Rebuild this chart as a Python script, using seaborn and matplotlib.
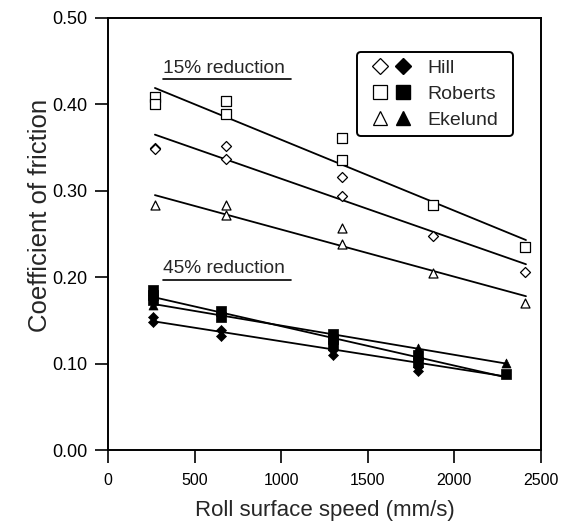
import matplotlib
matplotlib.use('Agg')
import matplotlib.pyplot as plt
import seaborn as sns
from matplotlib.legend_handler import HandlerTuple
from matplotlib.lines import Line2D

# 15% reduction (open markers)
hill15_x = [270, 270, 680, 680, 1350, 1350, 1875, 2410]
hill15_y = [0.350, 0.348, 0.352, 0.337, 0.316, 0.294, 0.248, 0.206]
roberts15_x = [270, 270, 680, 680, 1350, 1350, 1875, 2410]
roberts15_y = [0.408, 0.401, 0.404, 0.389, 0.361, 0.336, 0.284, 0.235]
ekelund15_x = [270, 680, 680, 1350, 1350, 1875, 2410]
ekelund15_y = [0.284, 0.283, 0.272, 0.257, 0.238, 0.205, 0.170]

# 45% reduction (filled markers)
hill45_x = [262, 262, 652, 652, 1300, 1300, 1790, 1790]
hill45_y = [0.154, 0.148, 0.139, 0.132, 0.116, 0.110, 0.096, 0.091]
roberts45_x = [262, 262, 262, 652, 652, 1300, 1300, 1300, 1790, 1790, 2300]
roberts45_y = [0.185, 0.179, 0.174, 0.161, 0.154, 0.134, 0.128, 0.122, 0.110, 0.102, 0.088]
ekelund45_x = [262, 652, 1300, 1790, 2300]
ekelund45_y = [0.168, 0.156, 0.128, 0.118, 0.101]

# fitted lines (end points)
fit15_x = [271, 2413]
hill15_fit = [0.365, 0.215]
roberts15_fit = [0.419, 0.243]
ekelund15_fit = [0.295, 0.178]
fit45_x = [262, 2300]
hill45_fit = [0.149, 0.085]
roberts45_fit = [0.177, 0.084]
ekelund45_fit = [0.169, 0.100]

labels = ['Hill', 'Roberts', 'Ekelund']
markers = ['D', 's', '^']
msizes = [26, 42, 42]

sns.set_style('ticks')
plt.rcParams['font.family'] = ['Liberation Sans', 'DejaVu Sans']

fig = plt.figure(figsize=(5.63, 5.29), dpi=100)
ax = fig.add_axes([0.1918, 0.1493, 0.7692, 0.8167])

open_sets = [(hill15_x, hill15_y), (roberts15_x, roberts15_y), (ekelund15_x, ekelund15_y)]
fill_sets = [(hill45_x, hill45_y), (roberts45_x, roberts45_y), (ekelund45_x, ekelund45_y)]
fits = [(fit15_x, hill15_fit), (fit15_x, roberts15_fit), (fit15_x, ekelund15_fit),
        (fit45_x, hill45_fit), (fit45_x, roberts45_fit), (fit45_x, ekelund45_fit)]

for fx, fy in fits:
    sns.lineplot(x=fx, y=fy, color='black', linewidth=1.3, ax=ax, zorder=2)

for (xs, ys), m, s in zip(open_sets, markers, msizes):
    sns.scatterplot(x=xs, y=ys, marker=m, s=s, facecolor='white',
                    edgecolor='black', linewidth=0.9, ax=ax, zorder=3)
for (xs, ys), m, s in zip(fill_sets, markers, msizes):
    sns.scatterplot(x=xs, y=ys, marker=m, s=s, color='black',
                    edgecolor='black', linewidth=0.5, ax=ax, zorder=3)

# labels of the two groups
ax.text(316, 0.432, '15% reduction', fontsize=13.8, ha='left', va='bottom')
ax.text(316, 0.200, '45% reduction', fontsize=13.8, ha='left', va='bottom')
ax.plot([318, 1057], [0.429, 0.429], color='black', linewidth=1.2)
ax.plot([318, 1057], [0.197, 0.197], color='black', linewidth=1.2)

ax.set_xlim(0, 2500)
ax.set_ylim(0, 0.5)
ax.set_xticks([0, 500, 1000, 1500, 2000, 2500])
ax.set_yticks([0.0, 0.1, 0.2, 0.3, 0.4, 0.5])
ax.set_yticklabels(['0.00', '0.10', '0.20', '0.30', '0.40', '0.50'])
ax.tick_params(direction='out', length=9.5, width=1.2, colors='black')
ax.tick_params(axis='x', labelsize=11.5, pad=7)
ax.tick_params(axis='y', labelsize=13, pad=5)
for sp in ax.spines.values():
    sp.set_visible(True)
    sp.set_linewidth(1.4)
    sp.set_color('black')
ax.set_xlabel('Roll surface speed (mm/s)', fontsize=16, labelpad=9)
ax.set_ylabel('Coefficient of friction', fontsize=18.5)
ax.yaxis.set_label_coords(-0.13, 0.544)

handles = []
for m in markers:
    ms = 8 if m == 'D' else 9.5
    h_open = Line2D([], [], marker=m, linestyle='none', markersize=ms,
                    markerfacecolor='white', markeredgecolor='black', markeredgewidth=0.9)
    h_fill = Line2D([], [], marker=m, linestyle='none', markersize=ms,
                    markerfacecolor='black', markeredgecolor='black')
    handles.append((h_open, h_fill))
leg = ax.legend(handles, labels, handler_map={tuple: HandlerTuple(ndivide=None, pad=-0.46)},
                loc='upper left', bbox_to_anchor=(0.575, 0.725, 0.36, 0.196), mode='expand',
                borderaxespad=0, fontsize=14, fancybox=True, frameon=True, handlelength=2.83,
                handletextpad=0.41, labelspacing=0.42, borderpad=0.38)
leg.get_frame().set_edgecolor('black')
leg.get_frame().set_linewidth(1.4)
leg.get_frame().set_alpha(1)

fig.savefig('out.png', dpi=100)
